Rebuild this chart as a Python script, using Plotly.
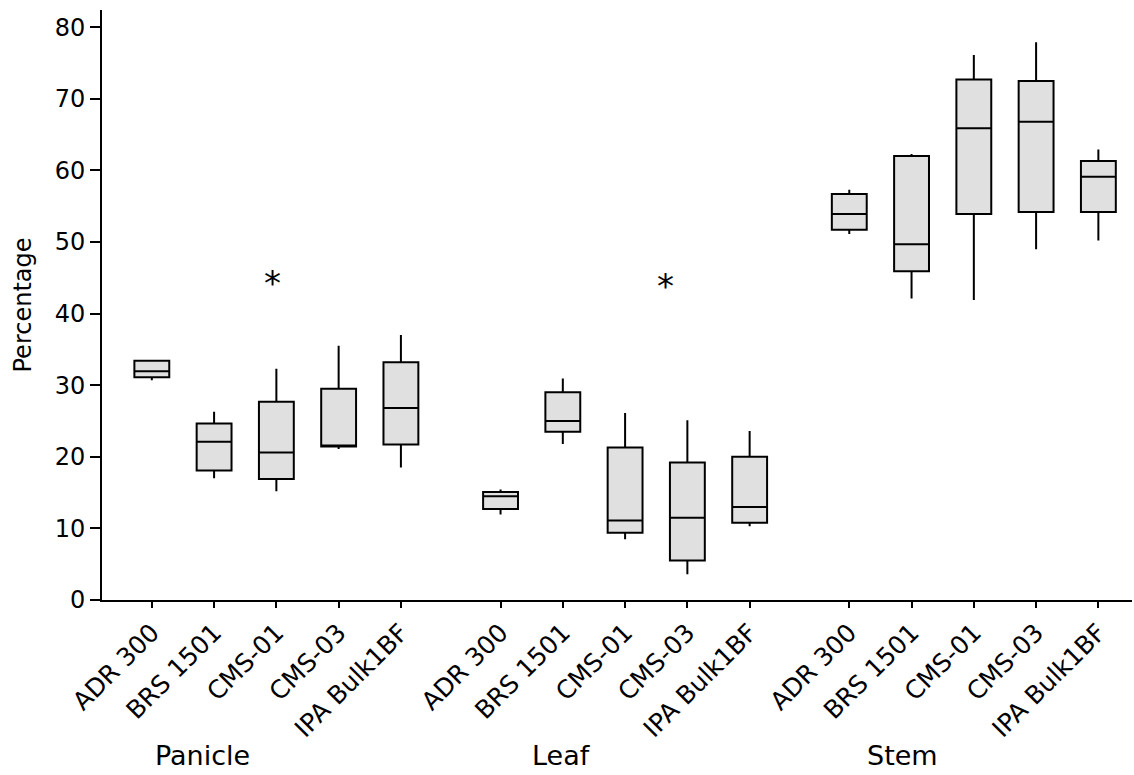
import plotly.graph_objects as go

categories = ["ADR 300", "BRS 1501", "CMS-01", "CMS-03", "IPA Bulk1BF"]
organs = ["Panicle", "Leaf", "Stem"]

panicle_q1 = [31.1, 18.1, 16.9, 21.45, 21.7]
panicle_med = [31.95, 22.1, 20.6, 21.5, 26.8]
panicle_q3 = [33.4, 24.65, 27.7, 29.5, 33.2]
panicle_lo = [30.7, 17.0, 15.2, 21.1, 18.5]
panicle_hi = [33.4, 26.3, 32.3, 35.5, 37.0]

leaf_q1 = [12.7, 23.5, 9.4, 5.5, 10.8]
leaf_med = [14.5, 25.0, 11.1, 11.5, 13.0]
leaf_q3 = [15.1, 29.0, 21.3, 19.2, 20.0]
leaf_lo = [11.95, 21.8, 8.5, 3.6, 10.3]
leaf_hi = [15.45, 30.95, 26.1, 25.1, 23.6]

stem_q1 = [51.7, 45.9, 53.9, 54.2, 54.2]
stem_med = [53.9, 49.7, 65.9, 66.8, 59.1]
stem_q3 = [56.7, 62.0, 72.7, 72.5, 61.3]
stem_lo = [51.1, 42.1, 41.9, 49.0, 50.2]
stem_hi = [57.3, 62.3, 76.1, 77.9, 62.9]

# outliers: (organ index, category index, value, horizontal offset seen in the figure)
outlier_organ = [0, 1]
outlier_cat = [2, 3]
outlier_val = [44.5, 44.2]
outlier_shift = [-0.064, -0.35]

organ_label_offset = [0.82, 0.98, 0.86]

y_ticks = [0, 10, 20, 30, 40, 50, 60, 70, 80]

GROUP_GAP = 1.6
def pos(g, i):
    return g * (len(categories) - 1 + GROUP_GAP) + i

xs, q1, med, q3, lo, hi, labels = [], [], [], [], [], [], []
for g, (a, b, c, d, e) in enumerate([
    (panicle_q1, panicle_med, panicle_q3, panicle_lo, panicle_hi),
    (leaf_q1, leaf_med, leaf_q3, leaf_lo, leaf_hi),
    (stem_q1, stem_med, stem_q3, stem_lo, stem_hi),
]):
    for i in range(len(categories)):
        xs.append(pos(g, i))
        q1.append(a[i]); med.append(b[i]); q3.append(c[i]); lo.append(d[i]); hi.append(e[i])
        labels.append(categories[i])

FONT = "DejaVu Sans"
fig = go.Figure()
fig.add_trace(go.Box(
    x=xs, q1=q1, median=med, q3=q3, lowerfence=lo, upperfence=hi,
    width=0.56, whiskerwidth=0, boxpoints=False,
    fillcolor="#e0e0e0", line=dict(color="black", width=2),
    showlegend=False, hoverinfo="skip",
))

# outlier asterisks as text glyphs anchored at their data values
for g, i, s, v in zip(outlier_organ, outlier_cat, outlier_shift, outlier_val):
    fig.add_annotation(x=pos(g, i) + s, y=v, xref="x", yref="y", text="*",
                       showarrow=False, xanchor="center", yanchor="middle",
                       yshift=-2, font=dict(family=FONT, size=34, color="black"))

for g, name in enumerate(organs):
    fig.add_annotation(x=pos(g, 0) + organ_label_offset[g], y=-0.263, xref="x", yref="paper",
                       text=name, showarrow=False, xanchor="center", yanchor="middle",
                       font=dict(family=FONT, size=27, color="black"))

fig.update_layout(
    width=1134, height=775,
    margin=dict(l=102, r=2, t=10, b=175),
    plot_bgcolor="white", paper_bgcolor="white",
    font=dict(family=FONT, color="black"),
    xaxis=dict(range=[-0.8, 15.74], tickvals=xs, ticktext=labels, tickangle=-45,
               tickfont=dict(size=25), ticks="outside", ticklen=6, tickwidth=2,
               tickcolor="black", showline=True, linewidth=2, linecolor="black",
               showgrid=False, zeroline=False),
    yaxis=dict(range=[0, 82.4], tickvals=y_ticks, tickfont=dict(size=24),
               ticks="outside", ticklen=10, tickwidth=2, tickcolor="black",
               showline=True, linewidth=2, linecolor="black",
               showgrid=False, zeroline=False,
               title=dict(text="Percentage", font=dict(size=24), standoff=16)),
)

fig.write_html("out.html")
